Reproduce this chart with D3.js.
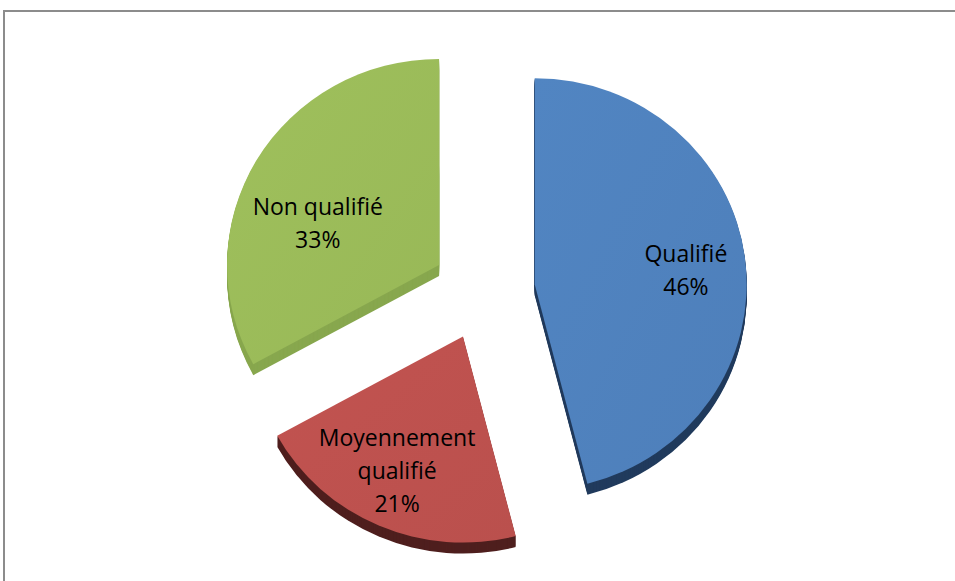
<!DOCTYPE html>
<html>
<head>
<meta charset="utf-8">
<script src="https://cdn.jsdelivr.net/npm/d3@7"></script>
<style>
  html, body { margin: 0; padding: 0; background: #fff; }
  svg { display: block; }
  text { font-family: "Open Sans", "DejaVu Sans", sans-serif; fill: #000; }
</style>
</head>
<body>
<svg id="chart" width="955" height="581"></svg>
<script>
// Qualification levels and their shares (%)
const categories = ["Qualifié", "Moyennement qualifié", "Non qualifié"];
const shares = [46, 21, 33];

// Face colours (top) and wall colours (extruded side) per slice
const topColors = ["#4f81bd", "#bd514e", "#9bbb59"];
const sideColors = ["#213b5d", "#4f1f1e", "#88a74e"];

// Label placement along each slice: distance from the slice tip and angle shift (degrees)
const labelRadius = [152, 152, 129];
const labelAngleShift = [1.4, 2.3, -10.7];

const W = 955, H = 581;
const cx = 483.5, cy = 290.5;   // pie centre
const rx = 212, ry = 206;       // top face radii
const ky = ry / rx;
const explode = 51.6;           // distance each slice is pulled out
const depth = 11;               // wall height
const lineH = 33;

const svg = d3.select("#chart");

// Chart frame
svg.append("rect")
  .attr("x", 4).attr("y", 11)
  .attr("width", W + 20).attr("height", H + 20)
  .attr("fill", "#fff")
  .attr("stroke", "#8c8c8c")
  .attr("stroke-width", 2);

const pie = d3.pie().sort(null).value(d => d);
const arcs = pie(shares);
const arc = d3.arc().innerRadius(0).outerRadius(rx);

const defs = svg.append("defs");
topColors.forEach((c, i) => {
  const g = defs.append("linearGradient")
    .attr("id", "face" + i)
    .attr("x1", "0").attr("y1", "0").attr("x2", "1").attr("y2", "1");
  g.append("stop").attr("offset", "0%").attr("stop-color", d3.color(c).brighter(0.08));
  g.append("stop").attr("offset", "100%").attr("stop-color", d3.color(c).darker(0.05));
});

function tip(d) {
  const mid = (d.startAngle + d.endAngle) / 2;
  return [cx + explode * Math.sin(mid), cy - explode * Math.cos(mid) * ky];
}

const slices = svg.append("g").selectAll("g.slice")
  .data(arcs)
  .join("g")
  .attr("class", "slice");

// Extruded wall: stacked copies of the slice shifted downward
slices.each(function (d, i) {
  const [tx, ty] = tip(d);
  const g = d3.select(this);
  for (let k = depth; k >= 1; k--) {
    g.append("path")
      .attr("transform", `translate(${tx},${ty + k}) scale(1,${ky})`)
      .attr("d", arc(d))
      .attr("fill", sideColors[i]);
  }
  g.append("path")
    .attr("transform", `translate(${tx},${ty}) scale(1,${ky})`)
    .attr("d", arc(d))
    .attr("fill", `url(#face${i})`);
});

// Category name (wrapped when long) and percentage
function labelLines(name, v) {
  const lines = name.length > 14 ? name.split(" ") : [name];
  return lines.concat([v + "%"]);
}

slices.each(function (d, i) {
  const [tx, ty] = tip(d);
  const a = (d.startAngle + d.endAngle) / 2 + labelAngleShift[i] * Math.PI / 180;
  const lx = tx + labelRadius[i] * Math.sin(a);
  const ly = ty - labelRadius[i] * Math.cos(a) * ky;
  const lines = labelLines(categories[i], shares[i]);
  d3.select(this).append("text")
    .attr("text-anchor", "middle")
    .attr("font-size", 23)
    .selectAll("tspan")
    .data(lines)
    .join("tspan")
    .attr("x", lx)
    .attr("y", (t, j) => ly + (j - (lines.length - 1) / 2) * lineH)
    .attr("dominant-baseline", "central")
    .text(t => t);
});
</script>
</body>
</html>
